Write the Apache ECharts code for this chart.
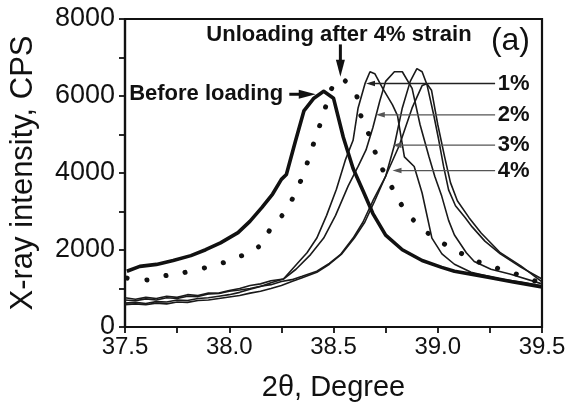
<!DOCTYPE html>
<html><head><meta charset="utf-8">
<script src="https://cdn.jsdelivr.net/npm/echarts@6/dist/echarts.min.js"></script>
<style>html,body{margin:0;padding:0;background:#fff}#c{width:574px;height:407px}</style>
</head><body><div id="c"></div>
<script>
var xTicks = [37.5, 38.0, 38.5, 39.0, 39.5];
var yTicks = [0, 2000, 4000, 6000, 8000];

var beforeLoading = [[37.509,1448],[37.571,1575],[37.651,1626],[37.731,1727],[37.816,1854],[37.887,2007],[37.958,2184],[38.042,2450],[38.099,2743],[38.156,3099],[38.208,3454],[38.25,3835],[38.274,3962],[38.316,4800],[38.358,5613],[38.406,5944],[38.453,6121],[38.5,5944],[38.547,4928],[38.594,4115],[38.642,3531],[38.689,2946],[38.75,2388],[38.83,2007],[38.925,1727],[39.019,1549],[39.08,1448],[39.241,1295],[39.363,1168],[39.5,1041]];

var unloading = [[37.51,1270],[37.59,1220],[37.68,1320],[37.77,1400],[37.87,1520],[37.96,1650],[38.05,1830],[38.14,2080],[38.20,2560],[38.27,3020],[38.32,3530],[38.36,4040],[38.39,4540],[38.42,5000],[38.45,5510],[38.50,6300],[38.53,6450],[38.58,6250],[38.61,6020],[38.63,5510],[38.67,5000],[38.70,4540],[38.74,4040],[38.79,3530],[38.84,3070],[38.92,2590],[39.01,2230],[39.10,1950],[39.20,1680],[39.29,1520],[39.38,1370],[39.48,1170],[39.5,1140]];

var strain1 = [[37.5,700],[37.55,680],[37.6,730],[37.65,700],[37.7,760],[37.75,740],[37.8,800],[37.85,790],[37.9,860],[37.95,880],[38.0,950],[38.05,1000],[38.1,1080],[38.15,1120],[38.2,1200],[38.26,1245],[38.335,1700],[38.373,1930],[38.42,2310],[38.467,2900],[38.514,3580],[38.557,4340],[38.594,4850],[38.618,5690],[38.651,6320],[38.675,6630],[38.698,6580],[38.736,6200],[38.783,5770],[38.807,5490],[38.84,4420],[38.887,4170],[38.925,3480],[38.972,2310],[39.02,1900],[39.08,1630],[39.16,1420],[39.3,1245],[39.4,1170],[39.5,1070]];

var strain2 = [[37.5,620],[37.55,640],[37.6,610],[37.65,660],[37.7,650],[37.75,700],[37.8,690],[37.85,740],[37.9,760],[37.95,800],[38.0,840],[38.05,900],[38.1,980],[38.15,1050],[38.2,1150],[38.26,1245],[38.32,1500],[38.39,1880],[38.453,2310],[38.51,2900],[38.57,3660],[38.618,4170],[38.656,4600],[38.689,5180],[38.722,5870],[38.75,6380],[38.792,6630],[38.83,6630],[38.877,6200],[38.915,5260],[38.958,4420],[38.986,3910],[39.019,3400],[39.052,2770],[39.08,2390],[39.137,1930],[39.175,1700],[39.255,1500],[39.35,1370],[39.5,1120]];

var strain3 = [[37.5,760],[37.55,720],[37.6,770],[37.65,740],[37.7,800],[37.75,770],[37.8,840],[37.85,820],[37.9,880],[37.95,870],[38.0,930],[38.05,960],[38.1,1000],[38.15,1060],[38.2,1100],[38.25,1180],[38.3,1230],[38.35,1320],[38.42,1450],[38.48,1650],[38.533,1880],[38.594,2310],[38.641,2720],[38.689,3280],[38.75,3910],[38.792,4720],[38.83,5690],[38.868,6380],[38.9,6710],[38.925,6630],[38.948,6300],[38.981,5500],[39.005,4850],[39.028,4170],[39.052,3560],[39.085,3150],[39.132,2840],[39.165,2600],[39.226,2230],[39.3,1900],[39.4,1550],[39.5,1245]];

var strain4 = [[37.5,580],[37.55,600],[37.6,580],[37.65,620],[37.7,600],[37.75,650],[37.8,640],[37.85,690],[37.9,700],[37.95,740],[38.0,780],[38.05,820],[38.1,880],[38.15,930],[38.2,1000],[38.25,1080],[38.3,1180],[38.35,1280],[38.42,1420],[38.48,1630],[38.54,1900],[38.6,2310],[38.65,2720],[38.698,3280],[38.76,4040],[38.816,4720],[38.877,5690],[38.925,6270],[38.948,6320],[38.97,6150],[39.0,5260],[39.033,4420],[39.061,3750],[39.094,3280],[39.15,2840],[39.208,2440],[39.3,1930],[39.4,1580],[39.5,1170]];

// annotation anchors (data coordinates)
var strainLabels = ['1%', '2%', '3%', '4%'];
var strainLabelY = [6325, 5512, 4724, 4064];
var strainArrowTipX = [38.656, 38.703, 38.783, 38.783];
var labelX = 39.288, leaderStartX = 39.275;

var FONT = "'Liberation Sans', Arial, sans-serif";
var chart = echarts.init(document.getElementById('c'), null, {renderer: 'canvas'});

function thin(name, data) {
  return {name: name, type: 'line', data: data, symbol: 'none', smooth: false,
    lineStyle: {color: '#1a1a1a', width: 1.6}, z: 3};
}

chart.setOption({
  animation: false,
  backgroundColor: '#fff',
  grid: {left: 118, right: 32, top: 19, bottom: 73, show: true, borderColor: '#111', borderWidth: 2.2, backgroundColor: 'transparent'},
  xAxis: {type: 'value', min: xTicks[0], max: xTicks[xTicks.length-1], interval: 0.5,
    name: '2\u03b8, Degree', nameLocation: 'middle', nameGap: 46,
    nameTextStyle: {fontFamily: FONT, fontSize: 29, color: '#111'},
    axisLine: {show: true, lineStyle: {color: '#111', width: 2.2}},
    axisTick: {show: true, length: 6, lineStyle: {color: '#111', width: 1.8}},
    minorTick: {show: true, splitNumber: 2, length: 6, lineStyle: {color: '#111', width: 1.8}},
    splitLine: {show: false},
    axisLabel: {fontFamily: FONT, fontSize: 24, color: '#111', margin: 8,
      formatter: function (v) { return v.toFixed(1); }}
  },
  yAxis: {type: 'value', min: yTicks[0], max: yTicks[yTicks.length-1], interval: 2000,
    name: 'X-ray intensity, CPS', nameLocation: 'middle', nameGap: 86,
    nameTextStyle: {fontFamily: FONT, fontSize: 31, color: '#111'},
    axisLine: {show: true, lineStyle: {color: '#111', width: 2.2}},
    axisTick: {show: true, length: 6, lineStyle: {color: '#111', width: 1.8}},
    minorTick: {show: true, splitNumber: 2, length: 6, lineStyle: {color: '#111', width: 1.8}},
    splitLine: {show: false},
    axisLabel: {fontFamily: FONT, fontSize: 27, color: '#111', margin: 10,
      formatter: function (v) { return String(v); }}
  },
  series: [
    {name: 'Before loading', type: 'line', data: beforeLoading, symbol: 'none',
      lineStyle: {color: '#111', width: 3.6, join: 'round'}, z: 4},
    {name: 'Unloading', type: 'line', data: unloading, symbol: 'none', smooth: true,
      lineStyle: {color: '#111', width: 5, type: [0.1, 19.5], cap: 'round'}, z: 4},
    thin('1%', strain1), thin('2%', strain2), thin('3%', strain3), thin('4%', strain4)
  ]
});

function px(p) { return chart.convertToPixel({gridIndex: 0}, p); }
function arrowHead(tip, dir, len, hw, color) {
  var bx = tip[0] - dir[0]*len, by = tip[1] - dir[1]*len;
  var nx = -dir[1], ny = dir[0];
  return {type: 'polygon', shape: {points: [[tip[0], tip[1]], [bx + nx*hw, by + ny*hw], [bx - nx*hw, by - ny*hw]]},
    style: {fill: color}, z: 20};
}

var g = [];
var uT = px([37.89, 7595]);
g.push({type: 'text', x: uT[0], y: uT[1], style: {text: 'Unloading after 4% strain', font: 'bold 22px ' + FONT, fill: '#111', textVerticalAlign: 'middle'}, z: 20});
var aT = px([39.255, 7417]);
g.push({type: 'text', x: aT[0], y: aT[1], style: {text: '(a)', font: '32px ' + FONT, fill: '#111', textVerticalAlign: 'middle'}, z: 20});
var ua0 = px([38.533, 7340]), ua1 = px([38.533, 6502]);
g.push({type: 'line', shape: {x1: ua0[0], y1: ua0[1], x2: ua1[0], y2: ua1[1] - 10}, style: {stroke: '#111', lineWidth: 3}, z: 20});
g.push(arrowHead([ua1[0], ua1[1]], [0, 1], 17, 4.5, '#111'));
var bT = px([37.52, 6045]);
g.push({type: 'text', x: bT[0], y: bT[1], style: {text: 'Before loading', font: 'bold 22px ' + FONT, fill: '#111', textVerticalAlign: 'middle'}, z: 20});
var ba0 = px([38.288, 6045]), ba1 = px([38.415, 6045]);
g.push({type: 'line', shape: {x1: ba0[0], y1: ba0[1], x2: ba1[0] - 10, y2: ba1[1]}, style: {stroke: '#111', lineWidth: 3}, z: 20});
g.push(arrowHead([ba1[0], ba1[1]], [1, 0], 17, 4.5, '#111'));
for (var i = 0; i < strainLabels.length; i++) {
  var lp = px([labelX, strainLabelY[i]]);
  g.push({type: 'text', x: lp[0], y: lp[1], style: {text: strainLabels[i], font: 'bold 22px ' + FONT, fill: '#111', textVerticalAlign: 'middle'}, z: 20});
  var s0 = px([leaderStartX, strainLabelY[i]]), s1 = px([strainArrowTipX[i], strainLabelY[i]]);
  var col = i === 0 ? '#222' : '#555';
  g.push({type: 'line', shape: {x1: s0[0], y1: s0[1], x2: s1[0] + 4, y2: s1[1]}, style: {stroke: col, lineWidth: 1.3}, z: 19});
  g.push(arrowHead([s1[0], s1[1]], [-1, 0], 9, 2.8, col));
}
chart.setOption({graphic: g});
</script></body></html>
